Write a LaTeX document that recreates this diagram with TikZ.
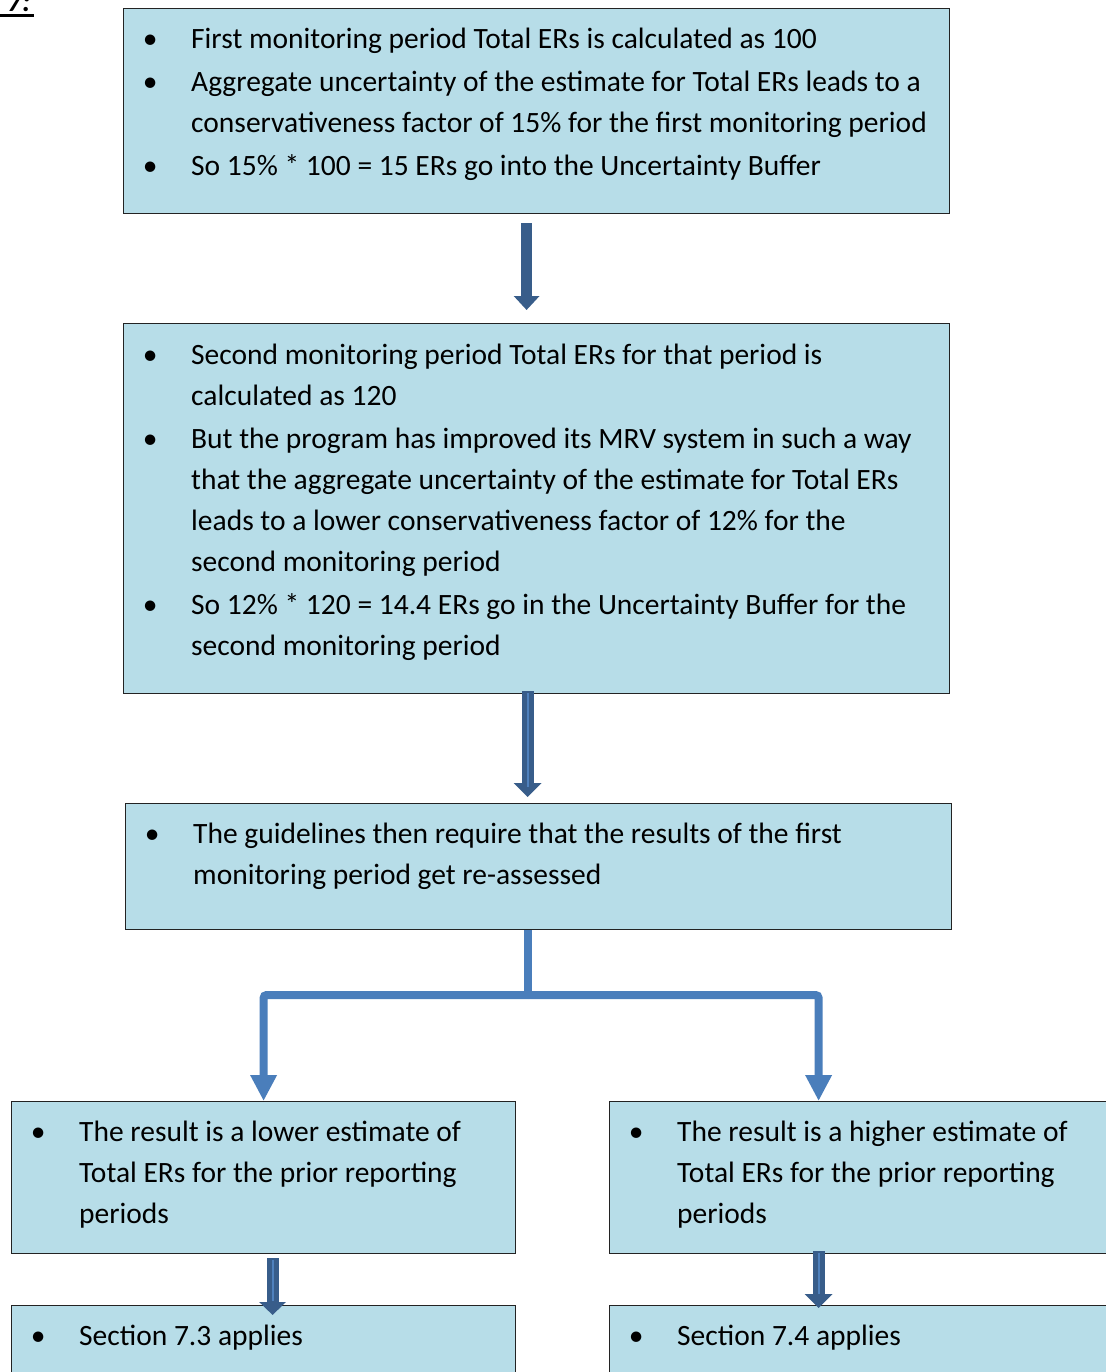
\documentclass[tikz,border=0pt]{standalone}
\usepackage{fontspec}
\setmainfont{Carlito}
\usetikzlibrary{arrows.meta,positioning}
\definecolor{boxblue}{RGB}{183,221,232}
\definecolor{boxline}{RGB}{35,35,35}
\definecolor{arrowdark}{RGB}{56,93,138}
\definecolor{arrowlight}{RGB}{79,129,189}
\definecolor{branchblue}{RGB}{74,126,187}
\newcommand{\itembul}{\makebox[22pt]{\textbullet}}

\begin{document}
\begin{tikzpicture}[
    x=1pt, y=-1pt,
    box/.style={draw=boxline, fill=boxblue, line width=1.2pt, inner sep=0pt, anchor=north west},
    txt/.style={anchor=north west, inner sep=0pt, font=\fontsize{29.5}{41}\selectfont},
    darrow/.style={draw=arrowdark, line width=11pt, -{Triangle[width=24pt,length=13pt]}},
    stripe/.style={draw=arrowlight, line width=2pt},
    branch/.style={draw=branchblue, line width=8pt, rounded corners=3pt},
    branchtip/.style={-{Triangle[width=25pt,length=26pt]}}
]
\useasboundingbox (0,0) rectangle (1105,1372);

% Figure number, cut at the top
\node[anchor=base west, inner sep=0pt, font=\fontsize{29.5}{41}\selectfont\bfseries\itshape] (fignum) at (7,12)
    {\rlap{\hspace{-10pt}\rule[-5pt]{37pt}{2.5pt}}7:};

% Boxes
\node[box, minimum width=826pt, minimum height=205pt] (first) at (123,8) {};
\node[box, minimum width=826pt, minimum height=370pt] (second) at (123,323) {};
\node[box, minimum width=826pt, minimum height=126pt] (third) at (125,803) {};
\node[box, minimum width=504pt, minimum height=152pt] (lower) at (11,1101) {};
\node[box, minimum width=504pt, minimum height=152pt] (higher) at (609,1101) {};
\node[box, minimum width=504pt, minimum height=152pt] (seclow) at (11,1305) {};
\node[box, minimum width=504pt, minimum height=152pt] (sechigh) at (609,1305) {};

% Box texts
\node[txt] (firsttxt) at ([xshift=16pt,yshift=-11.5pt]first.north west) {%
\begin{tabular}{@{}l@{\hspace{30pt}}l@{}}
\itembul & First monitoring period Total ERs is calculated as 100\\[2pt]
\itembul & Aggregate uncertainty of the estimate for Total ERs leads to a\\
 & conservativeness factor of 15\% for the first monitoring period\\[2pt]
\itembul & So 15\% * 100 = 15 ERs go into the Uncertainty Buffer
\end{tabular}};

\node[txt] (secondtxt) at ([xshift=16pt,yshift=-12.5pt]second.north west) {%
\begin{tabular}{@{}l@{\hspace{30pt}}l@{}}
\itembul & Second monitoring period Total ERs for that period is\\
 & calculated as 120\\[2pt]
\itembul & But the program has improved its MRV system in such a way\\
 & that the aggregate uncertainty of the estimate for Total ERs\\
 & leads to a lower conservativeness factor of 12\% for the\\
 & second monitoring period\\[2pt]
\itembul & So 12\% * 120 = 14.4 ERs go in the Uncertainty Buffer for the\\
 & second monitoring period
\end{tabular}};

\node[txt] (thirdtxt) at ([xshift=16pt,yshift=-12pt]third.north west) {%
\begin{tabular}{@{}l@{\hspace{30pt}}l@{}}
\itembul & The guidelines then require that the results of the first\\
 & monitoring period get re-assessed
\end{tabular}};

\node[txt] (lowertxt) at ([xshift=16pt,yshift=-12pt]lower.north west) {%
\begin{tabular}{@{}l@{\hspace{30pt}}l@{}}
\itembul & The result is a lower estimate of\\
 & Total ERs for the prior reporting\\
 & periods
\end{tabular}};

\node[txt] (highertxt) at ([xshift=16pt,yshift=-12pt]higher.north west) {%
\begin{tabular}{@{}l@{\hspace{30pt}}l@{}}
\itembul & The result is a higher estimate of\\
 & Total ERs for the prior reporting\\
 & periods
\end{tabular}};

\node[txt] (seclowtxt) at ([xshift=16pt,yshift=-12pt]seclow.north west) {%
\begin{tabular}{@{}l@{\hspace{30pt}}l@{}}
\itembul & Section 7.3 applies
\end{tabular}};

\node[txt] (sechightxt) at ([xshift=16pt,yshift=-12pt]sechigh.north west) {%
\begin{tabular}{@{}l@{\hspace{30pt}}l@{}}
\itembul & Section 7.4 applies
\end{tabular}};

% Block arrows
\draw[darrow, -{Triangle[width=25pt,length=14pt]}, shorten <=9pt, shorten >=13pt]
    ([xshift=-10pt]first.south) -- ([xshift=-10pt]second.north);
\draw[darrow, line width=12pt, -{Triangle[width=27pt,length=14pt]}, shorten <=-3pt, shorten >=6pt]
    ([xshift=-9pt]second.south) -- ([xshift=-9pt]second.south |- third.north);
\draw[stripe, shorten <=-1pt, shorten >=16pt] ([xshift=-9pt]second.south) -- ([xshift=-9pt]second.south |- third.north);

\draw[darrow, line width=12pt, -{Triangle[width=26pt,length=13pt]}, shorten <=4pt, shorten >=-10pt]
    ([xshift=9pt]lower.south) -- ([xshift=9pt]seclow.north);
\draw[stripe, shorten <=6pt, shorten >=4pt] ([xshift=9pt]lower.south) -- ([xshift=9pt]seclow.north);
\draw[darrow, line width=12pt, -{Triangle[width=27pt,length=14pt]}, shorten <=-3pt, shorten >=-3pt]
    ([xshift=-43pt]higher.south) -- ([xshift=-43pt]sechigh.north);
\draw[stripe, shorten <=-1pt, shorten >=11pt] ([xshift=-43pt]higher.south) -- ([xshift=-43pt]sechigh.north);

% Branch to the two outcomes
\coordinate (split) at (528,995);
\draw[branch] (third.south -| split) -- (split);
\draw[branch, branchtip] (split) -| (lower.north);
\draw[branch, branchtip] (split) -| ([xshift=-43pt]higher.north);

\end{tikzpicture}
\end{document}
